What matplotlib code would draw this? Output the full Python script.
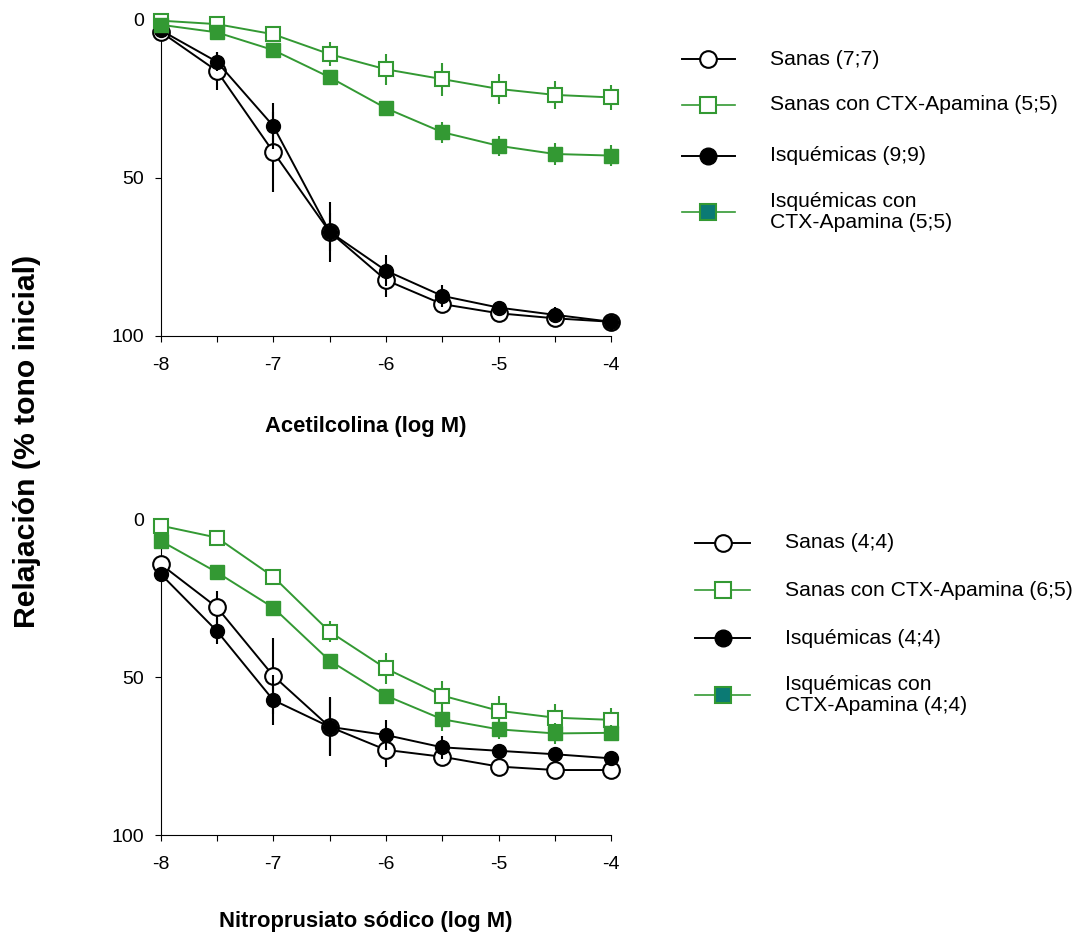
import matplotlib
matplotlib.use("Agg")
import matplotlib.pyplot as plt
from matplotlib.lines import Line2D

plt.rcParams['font.family'] = ['Liberation Sans', 'DejaVu Sans']
plt.rcParams['axes.unicode_minus'] = False

# ---------------- data ----------------
log_conc = [-8, -7.5, -7, -6.5, -6, -5.5, -5, -4.5, -4]
xticks = [-8, -7, -6, -5, -4]
yticks = [0, 50, 100]

# Acetilcolina (top panel)
ach_sanas = [3.8, 16.2, 41.8, 67.1, 82.4, 90.0, 92.9, 94.5, 95.6]
ach_sanas_err = [0.5, 6.0, 12.6, 9.5, 5.4, 2.0, 1.5, 1.0, 0.8]
ach_isq = [3.3, 13.3, 33.6, 67.1, 79.4, 87.4, 91.1, 93.4, 95.6]
ach_isq_err = [0.5, 3.0, 7.2, 6.0, 5.0, 3.4, 2.0, 2.6, 1.0]
ach_sanas_ctx = [0.3, 1.4, 4.6, 10.9, 15.7, 18.8, 21.9, 23.8, 24.6]
ach_sanas_ctx_err = [0.5, 1.0, 1.5, 3.9, 5.0, 5.2, 4.7, 4.5, 4.0]
ach_isq_ctx = [1.6, 4.0, 9.6, 18.2, 28.0, 35.6, 39.9, 42.5, 43.0]
ach_isq_ctx_err = [0.5, 1.0, 1.5, 1.5, 2.0, 3.3, 3.2, 3.4, 3.4]

# Nitroprusiato sodico (bottom panel)
snp_sanas = [14.1, 27.8, 49.5, 65.7, 73.0, 75.2, 78.3, 79.4, 79.4]
snp_sanas_err = [1.0, 5.3, 12.0, 9.0, 5.5, 2.0, 1.5, 1.0, 1.0]
snp_isq = [17.2, 35.3, 57.2, 65.7, 68.3, 72.2, 73.3, 74.4, 75.7]
snp_isq_err = [1.0, 4.0, 8.0, 9.4, 4.8, 3.6, 2.0, 2.0, 2.0]
snp_sanas_ctx = [1.9, 5.7, 18.1, 35.5, 47.2, 55.8, 60.6, 62.8, 63.5]
snp_sanas_ctx_err = [0.5, 1.0, 1.5, 3.4, 5.0, 4.6, 4.6, 4.2, 3.7]
snp_isq_ctx = [6.7, 16.7, 27.9, 44.7, 55.8, 63.3, 66.5, 67.8, 67.6]
snp_isq_ctx_err = [1.0, 1.0, 1.5, 1.5, 2.0, 3.8, 3.2, 3.3, 2.4]

top_labels = ["Sanas (7;7)", "Sanas con CTX-Apamina (5;5)", "Isquémicas (9;9)",
              "Isquémicas con\nCTX-Apamina (5;5)"]
bot_labels = ["Sanas (4;4)", "Sanas con CTX-Apamina (6;5)", "Isquémicas (4;4)",
              "Isquémicas con\nCTX-Apamina (4;4)"]
xlabel_top = "Acetilcolina (log M)"
xlabel_bot = "Nitroprusiato sódico (log M)"
ylabel = "Relajación (% tono inicial)"

# ---------------- styles ----------------
GREEN = '#339933'
TEAL = '#0b7a74'
W, H = 1083, 939
fig = plt.figure(figsize=(W / 100, H / 100), dpi=100)


def fx(x):
    return x / W


def fy(y):
    return 1 - y / H


styles = [
    dict(marker='o', color='black', mfc='white', mec='black', ms=12, mew=1.5),
    dict(marker='o', color='black', mfc='black', mec='black', ms=10, mew=1.0),
    dict(marker='s', color=GREEN, mfc='white', mec=GREEN, ms=10, mew=1.5),
    dict(marker='s', color=GREEN, mfc=GREEN, mec=GREEN, ms=10, mew=1.0),
]


def make_panel(rect_px, series, xlabel, xlabel_y):
    left, top, right, bottom = rect_px
    ax = fig.add_axes([fx(left), fy(bottom), fx(right - left), (bottom - top) / H])
    for i, (vals, errs) in enumerate(series):
        st = styles[i]
        ax.errorbar(log_conc, vals, yerr=errs, fmt='-', marker=st['marker'],
                    color=st['color'], mfc=st['mfc'], mec=st['mec'], ms=st['ms'],
                    mew=st['mew'], lw=1.4, elinewidth=1.5, capsize=0,
                    ecolor=st['color'], zorder=3 + i, clip_on=False)
    ax.set_xlim(-8, -4)
    ax.set_ylim(100, 0)
    ax.set_xticks(xticks)
    ax.set_xticks(log_conc, minor=True)
    ax.set_xticklabels([str(t) for t in xticks])
    ax.set_yticks(yticks)
    ax.set_yticklabels([str(t) for t in yticks])
    for s in ['top', 'right']:
        ax.spines[s].set_visible(False)
    for s in ['left', 'bottom']:
        ax.spines[s].set_linewidth(0.8)
    ax.tick_params(axis='x', which='both', direction='out', length=4.3, width=0.8,
                   labelsize=14, pad=11)
    ax.tick_params(axis='y', direction='out', length=4, width=0.8, labelsize=14, pad=8)
    ax.patch.set_alpha(0)
    fig.text(fx(366), fy(xlabel_y), xlabel, fontsize=15.8, fontweight='bold',
             ha='center', va='center')
    return ax


make_panel((160.5, 19.7, 611.3, 335.7),
           [(ach_sanas, ach_sanas_err), (ach_isq, ach_isq_err),
            (ach_sanas_ctx, ach_sanas_ctx_err), (ach_isq_ctx, ach_isq_ctx_err)],
           xlabel_top, 426.7)
make_panel((160.5, 519.6, 611.3, 835.0),
           [(snp_sanas, snp_sanas_err), (snp_isq, snp_isq_err),
            (snp_sanas_ctx, snp_sanas_ctx_err), (snp_isq_ctx, snp_isq_ctx_err)],
           xlabel_bot, 921.7)

fig.text(fx(27), fy(441.5), ylabel, fontsize=21.7, fontweight='bold',
         rotation=90, ha='center', va='center')

# ---------------- legends ----------------
leg_styles = [
    dict(marker='o', color='black', mfc='white', mec='black', mew=1.5, lw=1.4),
    dict(marker='s', color=GREEN, mfc='white', mec=GREEN, mew=1.5, lw=1.2),
    dict(marker='o', color='black', mfc='black', mec='black', mew=1.0, lw=1.4),
    dict(marker='s', color=GREEN, mfc=TEAL, mec=GREEN, mew=1.5, lw=1.2),
]


def draw_legend(labels, rows_y, x0, x1, xtext):
    xc = (x0 + x1) / 2
    for lab, y, st in zip(labels, rows_y, leg_styles):
        fig.add_artist(Line2D([fx(x0), fx(x1)], [fy(y), fy(y)], transform=fig.transFigure,
                              color=st['color'], lw=st['lw']))
        fig.add_artist(Line2D([fx(xc)], [fy(y)], transform=fig.transFigure,
                              marker=st['marker'], ms=12 if st['marker'] == 'o' else 11.5,
                              mfc=st['mfc'], mec=st['mec'], mew=st['mew'], ls='none'))
        fig.text(fx(xtext), fy(y), lab, fontsize=15.2, ha='left', va='center',
                 linespacing=1.15)


draw_legend(top_labels, [59.3, 105, 156, 212], 681.7, 735, 770)
draw_legend(bot_labels, [542.7, 590, 638.3, 695], 695, 750, 785)

fig.savefig("out.png", dpi=100)
